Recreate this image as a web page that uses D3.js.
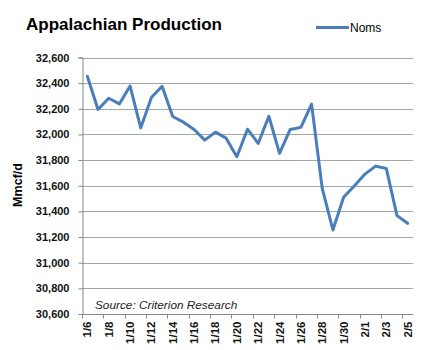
<!DOCTYPE html>
<html><head><meta charset="utf-8">
<script src="https://cdn.jsdelivr.net/npm/d3@7"></script>
<style>body{margin:0;background:#fff}svg{display:block}</style>
</head><body>
<svg id="c" width="435" height="350"></svg>
<script>
const categories = ["1/6","1/7","1/8","1/9","1/10","1/11","1/12","1/13","1/14","1/15","1/16","1/17","1/18","1/19","1/20","1/21","1/22","1/23","1/24","1/25","1/26","1/27","1/28","1/29","1/30","1/31","2/1","2/2","2/3","2/4","2/5"];
const noms = [32454,32195,32282,32238,32378,32051,32288,32376,32140,32096,32039,31956,32018,31971,31826,32041,31930,32142,31852,32039,32055,32236,31580,31255,31510,31598,31691,31753,31735,31367,31307];
const yTicks = [30600,30800,31000,31200,31400,31600,31800,32000,32200,32400,32600];
const seriesName = "Noms";
const title = "Appalachian Production";
const yTitle = "Mmcf/d";
const source = "Source: Criterion Research";

const svg = d3.select("#c");
const font = "'Liberation Sans', Arial, sans-serif";
const L = 82, R = 413, T = 57.5, B = 314;
const x = d3.scaleBand().domain(categories).range([L, R]);
const y = d3.scaleLinear().domain([30600, 32600]).range([B, T]);

// gridlines
svg.append("g").selectAll("line").data(yTicks).join("line")
  .attr("x1", L).attr("x2", R)
  .attr("y1", d => Math.round(y(d)) + 0.5).attr("y2", d => Math.round(y(d)) + 0.5)
  .attr("stroke", "#a6a6a6").attr("stroke-width", 1);

// y axis
const yAxis = d3.axisLeft(y).tickValues(yTicks).tickSize(4).tickPadding(9).tickFormat(d3.format(","));
const gy = svg.append("g").attr("transform", `translate(${L + 0.5},0)`).call(yAxis);
gy.select(".domain").attr("stroke", "#868686");
gy.selectAll(".tick line").attr("stroke", "#868686");
gy.selectAll("text").attr("font-family", font).attr("font-size", 11).attr("font-weight", "bold").attr("fill", "#111");

// x axis
const gx = svg.append("g").attr("transform", `translate(0,${Math.round(B) + 0.5})`);
gx.append("line").attr("x1", L).attr("x2", R).attr("stroke", "#868686");
const bw = x.step();
const tickIdx = d3.range(0, categories.length + 1, 2);
gx.selectAll("line.t").data(tickIdx).join("line").attr("class", "t")
  .attr("x1", i => Math.round(L + i * bw) + 0.5).attr("x2", i => Math.round(L + i * bw) + 0.5)
  .attr("y1", 0).attr("y2", 4).attr("stroke", "#868686");
gx.selectAll("text").data(categories.filter((d, i) => i % 2 === 0)).join("text")
  .attr("transform", d => `translate(${x(d) + bw / 2 + 4},7) rotate(-90)`)
  .attr("text-anchor", "end")
  .attr("font-family", font).attr("font-size", 11.5).attr("font-weight", "bold").attr("fill", "#111")
  .text(d => d);

// line
const line = d3.line().x((d, i) => x(categories[i]) + bw / 2).y(d => y(d));
svg.append("path").datum(noms).attr("d", line)
  .attr("fill", "none").attr("stroke", "#4a7ebb").attr("stroke-width", 3)
  .attr("stroke-linejoin", "round").attr("stroke-linecap", "round");

// title
svg.append("text").attr("x", 26).attr("y", 30).text(title)
  .attr("font-family", font).attr("font-size", 17).attr("font-weight", "bold")
  .attr("textLength", 196).attr("lengthAdjust", "spacingAndGlyphs");

// legend
svg.append("line").attr("x1", 316).attr("x2", 349).attr("y1", 27.5).attr("y2", 27.5)
  .attr("stroke", "#4a7ebb").attr("stroke-width", 3);
svg.append("text").attr("x", 350).attr("y", 31.5).text(seriesName)
  .attr("font-family", font).attr("font-size", 12);

// y title
svg.append("text").attr("transform", `translate(22,185) rotate(-90)`).attr("text-anchor", "middle")
  .text(yTitle).attr("font-family", font).attr("font-size", 12.5).attr("font-weight", "bold");

// source
svg.append("text").attr("x", 95).attr("y", 309).text(source)
  .attr("font-family", font).attr("font-size", 11.8).attr("font-style", "italic").attr("fill", "#222");
</script>
</body></html>
